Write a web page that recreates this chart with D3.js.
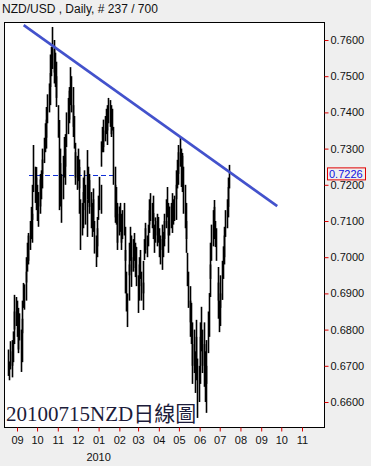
<!DOCTYPE html>
<html>
<head>
<meta charset="utf-8">
<script src="https://cdn.jsdelivr.net/npm/d3@7"></script>
<style>
  body { margin: 0; background: #efefef; }
  svg { display: block; font-family: "Liberation Sans", Arial, sans-serif; }
</style>
</head>
<body>
<div class="chart"></div>
<script>
// NZD/USD daily bars, 237 sessions ending 2010-07-15

var width = 371, height = 466;
var plot = { left: 4, top: 22, right: 324, bottom: 427 };

var title = "NZD/USD , Daily, # 237 / 700";
var watermark = "20100715NZD日線圖";
var lastDate = new Date(2010, 6, 15);
var lastPrice = 0.7226;

// daily highs / lows, oldest first
var highs = [
  .6745,.6712,.6768,.6771,.6740,.6795,.6850,.6896,
  .6890,.6880,.6860,.6820,.6845,
  .6800,.6830,.6880,
  .6929,.6925,.6960,
  .7000,.7040,.7067,.7060,
  .7100,.7139,.7120,
  .7200,.7310,.7250,
  .7220,.7249,.7200,.7180,.7230,.7215,.7240,.7270,
  .7300,.7330,.7370,.7380,.7415,
  .7450,.7480,.7509,
  .7560,.7581,.7636,.7600,.7575,
  .7565,.7540,.7500,
  .7420,.7379,.7300,.7260,
  .7230,.7280,.7332,.7300,.7340,
  .7400,.7440,.7470,.7460,.7525,
  .7500,.7470,.7420,.7390,
  .7316,.7290,.7280,.7300,.7270,
  .7249,.7160,.7150,
  .7180,.7220,.7240,.7200,.7160,
  .7296,.7250,.7230,
  .7213,.7180,.7150,.7190,.7160,
  .7100,.7060,.7080,.7111,
  .7170,.7222,.7200,
  .7320,.7360,.7380,.7350,.7390,.7410,.7380,.7420,.7440,
  .7434,.7420,.7400,.7410,
  .7360,.7250,.7200,
  .7194,.7150,.7120,.7140,
  .7150,.7120,.7100,.7130,.7150,
  .7084,.7020,.6960,.6900,.6980,
  .7040,.7084,.7060,.7000,.7050,
  .7067,.7030,.7040,
  .7028,.6950,.6980,
  .7000,.7020,.6960,.6930,.6990,
  .7050,.7080,.7095,.7060,.7090,
  .7130,.7160,.7177,.7150,.7170,
  .7122,.7090,.7110,.7100,.7120,
  .7111,.7080,.7060,.7090,.7050,.7070,.7100,.7120,
  .7160,.7194,.7150,.7100,.7140,
  .7150,.7177,.7130,.7160,.7170,
  .7200,.7240,.7269,
  .7290,.7310,.7332,.7300,.7280,
  .7288,.7250,.7200,.7150,.7100,
  .7012,.6960,.6920,.6880,
  .6874,.6820,.6760,.6800,.6740,.6780,
  .6827,.6720,.6700,
  .6780,.6820,.6863,.6800,.6760,.6820,
  .6740,.6700,.6771,
  .6850,.6901,
  .6980,.7040,.7090,.7130,.7158,
  .7139,.7100,.7080,
  .6973,.6930,.6880,.6900,.6950,
  .6990,.7030,.7060,.7084,
  .7130,.7160,.7194,
  .7220,.7255
];
var lows = [
  .6672,.6660,.6690,.6700,.6668,.6710,.6760,.6800,
  .6810,.6780,.6745,.6735,.6770,
  .6683,.6710,.6790,
  .6860,.6855,.6880,
  .6930,.6960,.6990,.6980,
  .7020,.7050,.7040,
  .7103,.7180,.7150,
  .7130,.7150,.7100,.7084,.7140,.7120,.7160,.7190,
  .7230,.7260,.7290,.7300,.7330,
  .7370,.7400,.7420,
  .7470,.7500,.7520,.7510,.7480,
  .7470,.7440,.7415,
  .7330,.7130,.7180,.7140,
  .7095,.7160,.7220,.7200,.7250,
  .7304,.7340,.7380,.7370,.7420,
  .7400,.7360,.7332,.7300,
  .7220,.7200,.7186,.7210,.7190,
  .7120,.7020,.7060,
  .7080,.7130,.7150,.7090,.7056,
  .7160,.7150,.7139,
  .7120,.7080,.7056,.7100,.7070,
  .7010,.6973,.7000,.7030,
  .7103,.7130,.7120,
  .7250,.7290,.7304,.7290,.7320,.7340,.7310,.7350,.7370,
  .7360,.7340,.7332,.7350,
  .7200,.7095,.7110,
  .7090,.7040,.7020,.7060,
  .7070,.7040,.7020,.7050,.7060,
  .6990,.6900,.6850,.6807,.6880,
  .6950,.6990,.6960,.6918,.6960,
  .6990,.6945,.6970,
  .6920,.6846,.6880,
  .6920,.6940,.6880,.6854,.6900,
  .6992,.7010,.7020,.7000,.7030,
  .7067,.7090,.7100,.7080,.7100,
  .7050,.7012,.7040,.7030,.7060,
  .7040,.7000,.6980,.7020,.6965,.7000,.7030,.7050,
  .7080,.7110,.7060,.7012,.7060,
  .7080,.7100,.7067,.7090,.7100,
  .7103,.7160,.7190,
  .7200,.7230,.7250,.7194,.7200,
  .7180,.7120,.7080,.7050,.7012,
  .6920,.6860,.6820,.6780,
  .6760,.6700,.6650,.6680,.6625,.6660,
  .6700,.6556,.6600,
  .6650,.6700,.6740,.6680,.6642,.6700,
  .6600,.6570,.6650,
  .6735,.6780,
  .6890,.6940,.6990,.7030,.7060,
  .7050,.7028,.6990,
  .6880,.6830,.6793,.6810,.6860,
  .6882,.6940,.6980,.7000,
  .7056,.7080,.7110,
  .7139,.7190
];

// trend line drawn on the chart (date, price)
var trendDates = [new Date(2009, 8, 11), new Date(2010, 8, 25)];
var trendPrices = [0.7641, 0.7141];

var priceTicks = [0.66, 0.67, 0.68, 0.69, 0.70, 0.71, 0.72, 0.73, 0.74, 0.75, 0.76];

// trading dates, counted back from the last session (weekdays only)
var dates = [];
var d = new Date(lastDate);
while (dates.length < highs.length) {
  if (d.getDay() !== 0 && d.getDay() !== 6) dates.unshift(new Date(d));
  d.setDate(d.getDate() - 1);
}

var x = d3.scaleTime()
  .domain([new Date(2009, 8, 1), new Date(2010, 10, 1)])
  .range([17, 302]);
var y = d3.scaleLinear()
  .domain([0.66, 0.76])
  .range([402, 40]);

const svg = d3.select(".chart")
  .append("svg")
  .attr("width", width)
  .attr("height", height);

svg.append("rect")
  .attr("width", width).attr("height", height)
  .attr("fill", "#efefef");

svg.append("text")
  .attr("x", 2).attr("y", 13)
  .attr("font-size", 12)
  .attr("fill", "#111")
  .text(title);

// plot frame
svg.append("rect")
  .attr("x", plot.left + 0.5).attr("y", plot.top + 0.5)
  .attr("width", plot.right - plot.left).attr("height", plot.bottom - plot.top)
  .attr("fill", "#fff")
  .attr("stroke", "#000");

var g = svg.append("g");

// last price dashed marker
g.append("line")
  .attr("x1", 29).attr("x2", 114)
  .attr("y1", Math.round(y(lastPrice)) + 0.5).attr("y2", Math.round(y(lastPrice)) + 0.5)
  .attr("stroke", "#1030d8")
  .attr("stroke-dasharray", "5,3");

// bars
g.selectAll("line.bar")
  .data(highs)
  .enter()
  .append("line")
  .attr("class", "bar")
  .attr("x1", (v, i) => Math.round(x(dates[i])) + 0.5)
  .attr("x2", (v, i) => Math.round(x(dates[i])) + 0.5)
  .attr("y1", v => y(v))
  .attr("y2", (v, i) => y(lows[i]))
  .attr("stroke", "#000")
  .attr("stroke-width", 1.6);

// trend line
g.append("line")
  .attr("x1", x(trendDates[0])).attr("y1", y(trendPrices[0]))
  .attr("x2", x(trendDates[1])).attr("y2", y(trendPrices[1]))
  .attr("stroke", "#4352cc")
  .attr("stroke-width", 2.6);

// right price axis
const yAxis = d3.axisRight(y)
  .tickValues(priceTicks)
  .tickSize(4)
  .tickPadding(2)
  .tickFormat(d3.format(".4f"));

svg.append("g")
  .attr("transform", "translate(" + (plot.right + 0.5) + ",0)")
  .call(yAxis)
  .call(a => a.select(".domain").remove())
  .call(a => a.selectAll(".tick line").attr("stroke", "#e00000"))
  .call(a => a.selectAll(".tick text")
    .attr("fill", "#111")
    .attr("font-size", 11)
    .attr("font-family", "Liberation Sans, Arial, sans-serif"));

// last price box
var ly = y(lastPrice);
svg.append("rect")
  .attr("x", 327.5).attr("y", ly - 7.5)
  .attr("width", 38).attr("height", 12)
  .attr("fill", "#efefef")
  .attr("stroke", "#e00000");
svg.append("text")
  .attr("x", 329).attr("y", ly + 3)
  .attr("font-size", 11)
  .attr("fill", "#1010e0")
  .text(d3.format(".4f")(lastPrice));

// bottom month axis
const xAxis = d3.axisBottom(x)
  .ticks(d3.timeMonth.every(1))
  .tickSize(4)
  .tickPadding(5)
  .tickFormat(d3.timeFormat("%m"));

svg.append("g")
  .attr("transform", "translate(0," + (plot.bottom + 0.5) + ")")
  .call(xAxis)
  .call(a => a.select(".domain").remove())
  .call(a => a.selectAll(".tick line").attr("stroke", "#e00000"))
  .call(a => a.selectAll(".tick text")
    .attr("fill", "#111")
    .attr("font-size", 11)
    .attr("font-family", "Liberation Sans, Arial, sans-serif"));

svg.append("text")
  .attr("x", x(new Date(2010, 0, 1)))
  .attr("y", 461)
  .attr("text-anchor", "middle")
  .attr("font-size", 11)
  .attr("fill", "#111")
  .text("2010");

// caption inside the plot
svg.append("text")
  .attr("x", 6).attr("y", 421)
  .attr("font-size", 21)
  .attr("font-family", "Liberation Serif, 'Noto Sans CJK TC', serif")
  .attr("fill", "#1c1c3a")
  .text(watermark);
</script>
</body>
</html>
